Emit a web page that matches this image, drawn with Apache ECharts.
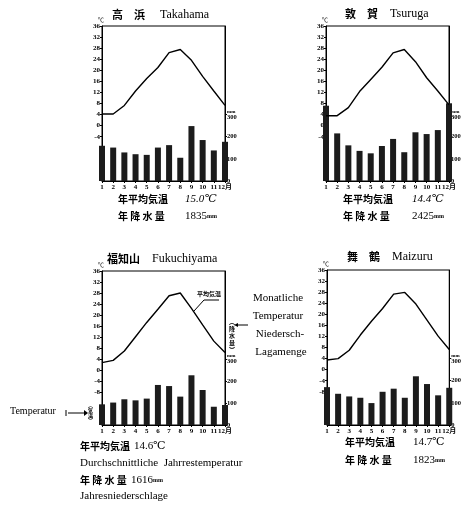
<!DOCTYPE html>
<html><head><meta charset="utf-8">
<script src="https://cdn.jsdelivr.net/npm/echarts@6/dist/echarts.min.js"></script>
<style>html,body{margin:0;padding:0;background:#fff}#c{width:464px;height:507px}</style>
</head><body><div id="c"></div>
<script>
// ---- data ----
const months = ['1','2','3','4','5','6','7','8','9','10','11','12'];
const tempTicksTop = [-4,0,4,8,12,16,20,24,28,32,36];
const tempTicksBottom = [-8,-4,0,4,8,12,16,20,24,28,32,36];
const precTicks = [0,100,200,300];

const takahamaTemp = [4.2,4.2,7.3,12.5,17.0,21.0,26.4,27.5,23.6,17.8,12.5,7.3];
const takahamaPrec = [159,151,129,121,118,151,162,105,248,185,138,177];
const tsurugaTemp = [3.6,3.6,6.5,12.3,16.7,21.1,26.3,27.5,23.1,17.3,12.5,7.5];
const tsurugaPrec = [340,215,161,136,125,158,190,130,220,212,230,351];
const fukuchiyamaTemp = [2.7,3.5,6.9,12.1,17.3,22.1,27.0,28.0,22.4,16.4,10.5,6.4];
const fukuchiyamaPrec = [94,102,117,112,120,182,177,129,226,159,83,91];
const maizuruTemp = [3.5,4.0,7.0,12.5,17.5,22.1,27.3,27.9,23.7,17.9,12.1,7.3];
const maizuruPrec = [171,141,129,123,99,150,164,123,220,185,134,168];

const namesJa = ['高　浜','敦　賀','福知山','舞　鶴'];
const namesEn = ['Takahama','Tsuruga','Fukuchiyama','Maizuru'];
const annualTemp = ['15.0','14.4','14.6','14.7'];
const annualPrec = ['1835','2425','1616','1823'];

// ---- layout ----
const SERIF = '"Liberation Serif","DejaVu Serif","Noto Sans CJK JP",serif';
const CJK = '"Noto Sans CJK JP","Liberation Serif",sans-serif';
const temps = [takahamaTemp, tsurugaTemp, fukuchiyamaTemp, maizuruTemp];
const precs = [takahamaPrec, tsurugaPrec, fukuchiyamaPrec, maizuruPrec];
const grids = [
  {left:102, top:26, width:123, height:155},
  {left:326, top:26, width:123, height:155},
  {left:102, top:271, width:123, height:154},
  {left:327, top:270, width:125, height:155}
];
const titlePos = [{ja:112, en:160, y:16},{ja:345, en:390, y:15},{ja:107, en:152, y:260},{ja:347, en:392, y:258}];
const textPos = [
  {x:118, v:185, v2:185, y1:200, y2:217, italic:true},
  {x:343, v:412, v2:412, y1:200, y2:217, italic:true},
  {x:80, v:134, v2:131, y1:447, y2:481, italic:false},
  {x:345, v:413, v2:413, y1:443, y2:461, italic:false}
];

const xAxis = [], yAxis = [], series = [], graphic = [];
grids.forEach((g, i) => {
  xAxis.push({
    type:'category', gridIndex:i, data:months, boundaryGap:false,
    axisLine:{onZero:false, lineStyle:{color:'#000', width:1}},
    axisTick:{show:true, length:2, lineStyle:{color:'#000'}},
    axisLabel:{interval:0, margin:3, fontSize:7, fontWeight:'bold', fontFamily:SERIF, color:'#000',
      formatter: v => v === '12' ? '12月' : v}
  });
  const tt = i < 2 ? tempTicksTop : tempTicksBottom;
  yAxis.push({
    type:'value', gridIndex:i, min:-20, max:36, interval:4, position:'left',
    name:'℃', nameLocation:'end', nameGap:1,
    nameTextStyle:{fontSize:6, color:'#000', fontFamily:CJK, align:'left', padding:[0,0,0,-4]},
    axisLine:{show:true, onZero:false, lineStyle:{color:'#000', width:1}},
    axisTick:{show:true, length:2, customValues:tt, lineStyle:{color:'#000'}},
    axisLabel:{customValues:tt, margin:2, fontSize:7, fontWeight:'bold', fontFamily:SERIF, color:'#000'},
    splitLine:{show:false}
  });
  yAxis.push({
    type:'value', gridIndex:i, min:0, max:700, position:'right',
    axisLine:{show:true, onZero:false, lineStyle:{color:'#000', width:1}},
    axisTick:{show:true, length:2, customValues:precTicks, lineStyle:{color:'#000'}},
    axisLabel:{customValues:precTicks, margin:2, fontSize:6.5, fontWeight:'bold', fontFamily:SERIF, color:'#000',
      formatter: v => v === 300 ? '{u|mm}\n300' : String(v),
      rich:{u:{fontSize:5, lineHeight:5, fontWeight:'bold', fontFamily:SERIF}}},
    splitLine:{show:false}
  });
  series.push({
    type:'bar', xAxisIndex:i, yAxisIndex:2*i+1, data:precs[i], barWidth:6, clip:false,
    itemStyle:{color:'#1c1c1c'}, z:2
  });
  series.push({
    type:'line', xAxisIndex:i, yAxisIndex:2*i, data:temps[i], symbol:'none',
    lineStyle:{color:'#000', width:1.4}, z:3
  });
  const t = titlePos[i];
  graphic.push({type:'text', left:t.ja, top:t.y-7, style:{text:namesJa[i], font:'bold 11px '+CJK, fill:'#000'}});
  graphic.push({type:'text', left:t.en, top:t.y-7, style:{text:namesEn[i], font:'12px '+SERIF, fill:'#000'}});
  const p = textPos[i];
  graphic.push({type:'text', left:p.x, top:p.y1-6, style:{text:'年平均気温', font:'bold 10px '+CJK, fill:'#000'}});
  graphic.push({type:'text', left:p.v, top:p.y1-6, style:{text:annualTemp[i]+'℃', font:(p.italic?'italic ':'')+'11px '+SERIF, fill:'#000'}});
  graphic.push({type:'text', left:p.x, top:p.y2-6, style:{text:'年 降 水 量', font:'bold 10px '+CJK, fill:'#000'}});
  graphic.push({type:'text', left:p.v2, top:p.y2-6, style:{
    text:'{a|'+annualPrec[i]+'}{b|mm}',
    rich:{a:{font:'11px '+SERIF, fill:'#000'}, b:{font:'bold 6px '+SERIF, fill:'#000'}}}});
});

// Fukuchiyama explanatory annotations
graphic.push(
  {type:'text', left:80, top:458, style:{text:'Durchschnittliche  Jahrrestemperatur', font:'11px '+SERIF, fill:'#000'}},
  {type:'text', left:80, top:491, style:{text:'Jahresniederschlage', font:'11px '+SERIF, fill:'#000'}},
  {type:'text', left:197, top:291, style:{text:'平均気温', font:'bold 6px '+CJK, fill:'#000'}},
  {type:'polyline', shape:{points:[[194,311],[204,300],[219,300]]}, style:{stroke:'#000', lineWidth:1, fill:null}},
  {type:'text', left:229, top:318, style:{text:'︵\n降\n水\n量\n︶', font:'bold 6px '+CJK, lineHeight:7, fill:'#000'}},
  {type:'line', shape:{x1:236, y1:325, x2:248, y2:325}, style:{stroke:'#000', lineWidth:1}},
  {type:'polygon', shape:{points:[[234,325],[238,323],[238,327]]}, style:{fill:'#000'}},
  {type:'text', left:88, top:403, style:{text:'︵\n気\n温\n︶', font:'bold 5px '+CJK, lineHeight:5, fill:'#000'}},
  {type:'text', left:10, top:406, style:{text:'Temperatur', font:'10px '+SERIF, fill:'#000'}},
  {type:'line', shape:{x1:68, y1:413, x2:86, y2:413}, style:{stroke:'#000', lineWidth:1}},
  {type:'line', shape:{x1:66, y1:410, x2:66, y2:416}, style:{stroke:'#000', lineWidth:1}},
  {type:'polygon', shape:{points:[[84,410],[88,413],[84,416]]}, style:{fill:'#000'}},
  {type:'text', x:278, y:298, style:{text:'Monatliche', font:'11px '+SERIF, fill:'#000', align:'center', verticalAlign:'middle'}},
  {type:'text', x:278, y:316, style:{text:'Temperatur', font:'11px '+SERIF, fill:'#000', align:'center', verticalAlign:'middle'}},
  {type:'text', x:280, y:334, style:{text:'Niedersch-', font:'11px '+SERIF, fill:'#000', align:'center', verticalAlign:'middle'}},
  {type:'text', x:281, y:352, style:{text:'Lagamenge', font:'11px '+SERIF, fill:'#000', align:'center', verticalAlign:'middle'}}
);

const chart = echarts.init(document.getElementById('c'), null, {renderer:'canvas'});
chart.setOption({
  animation:false,
  backgroundColor:'#fff',
  grid: grids.map(g => Object.assign({show:true, borderColor:'#000', borderWidth:1, backgroundColor:'transparent'}, g)),
  xAxis, yAxis, series, graphic
});
</script></body></html>
